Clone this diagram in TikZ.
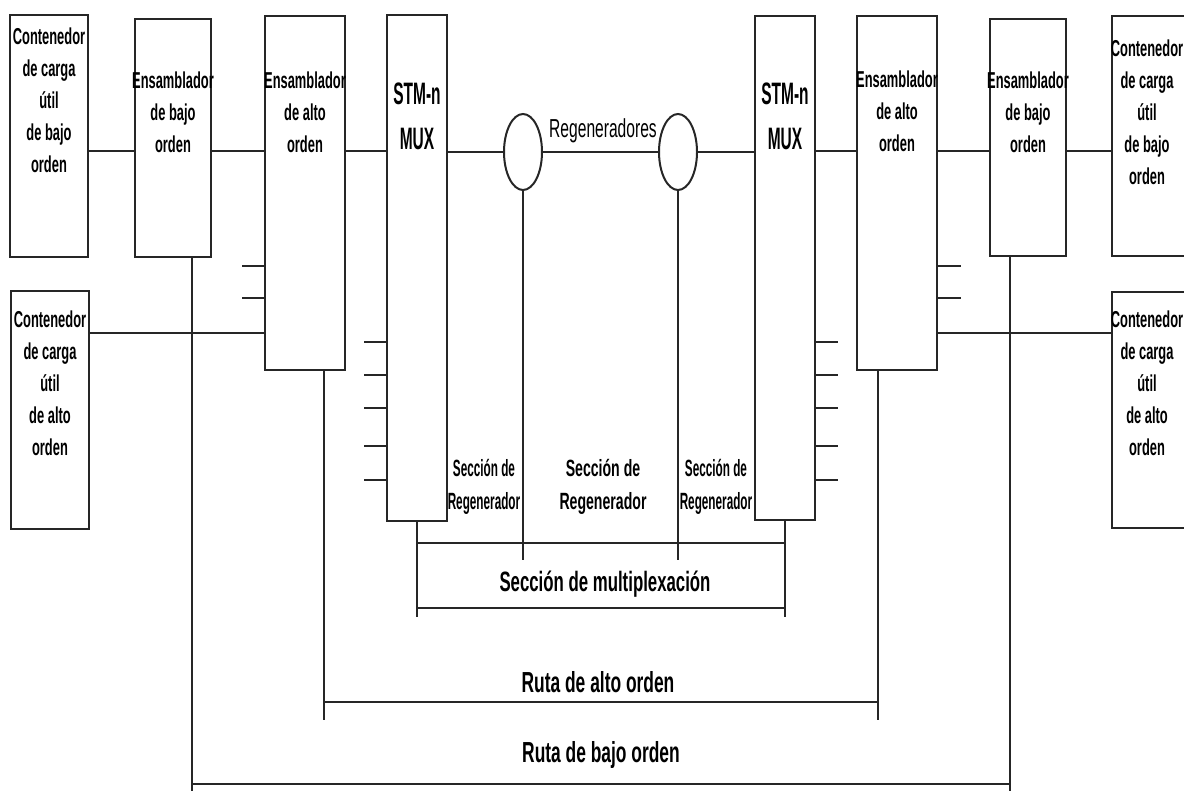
\documentclass[tikz,border=0pt]{standalone}
\usepackage{fontspec}
\setmainfont{Liberation Sans}[FakeStretch=0.6]
\newfontfamily\muxfont{Liberation Sans}[FakeStretch=0.5]
\newfontfamily\boxfont{Liberation Sans}[FakeStretch=0.56]
\usetikzlibrary{shapes.geometric}

\begin{document}
\begin{tikzpicture}[x=1pt,y=-1pt,line width=2pt,draw=black!85,
  blk/.style={draw,inner sep=0pt},
  regen/.style={draw,ellipse,inner sep=0pt,minimum width=38pt,minimum height=76pt},
  boxtxt/.style={font=\boxfont\bfseries\fontsize{23}{32}\selectfont,align=center,inner sep=0pt},
  muxtxt/.style={font=\muxfont\bfseries\fontsize{31}{45}\selectfont,align=center,inner sep=0pt},
  sectxt/.style={font=\bfseries\fontsize{23.5}{33}\selectfont,align=center,inner sep=0pt},
  sidetxt/.style={font=\muxfont\bfseries\fontsize{23.5}{33}\selectfont,align=center,inner sep=0pt},
  rutatxt/.style={font=\bfseries\fontsize{29}{33}\selectfont,inner sep=0pt}]
  \useasboundingbox (0,0) rectangle (1184,791);
  \clip (0,0) rectangle (1184,791);

  % boxes, left side
  \node[blk,minimum width=78pt,minimum height=242pt] (C1) at (49,136) {};
  \node[blk,minimum width=76pt,minimum height=238pt] (E1) at (173,138) {};
  \node[blk,minimum width=80pt,minimum height=354pt] (A1) at (305,193) {};
  \node[blk,minimum width=60pt,minimum height=505pt] (M1) at (417,268) {};
  \node[blk,minimum width=78pt,minimum height=237pt] (C3) at (50,410) {};
  % boxes, right side
  \node[blk,minimum width=60pt,minimum height=504pt] (M2) at (785,268) {};
  \node[blk,minimum width=80pt,minimum height=354pt] (A2) at (897,193) {};
  \node[blk,minimum width=76pt,minimum height=237pt] (E2) at (1028,138) {};
  \node[blk,minimum width=78pt,minimum height=240pt] (C2) at (1151,136) {};
  \node[blk,minimum width=78pt,minimum height=235pt] (C4) at (1151,410) {};
  % regenerators
  \node[regen] (R1) at (523,152) {};
  \node[regen] (R2) at (678,152) {};

  % texts in the boxes
  \node[boxtxt] (C1t) at (49,100) {Contenedor\\de carga\\útil\\de bajo\\orden};
  \node[boxtxt] (E1t) at (173,112) {Ensamblador\\de bajo\\orden};
  \node[boxtxt] (A1t) at (305,112) {Ensamblador\\de alto\\orden};
  \node[muxtxt] (M1t) at (417,116) {STM-n\\MUX};
  \node[boxtxt] (C3t) at (50,383) {Contenedor\\de carga\\útil\\de alto\\orden};
  \node[muxtxt] (M2t) at (785,116) {STM-n\\MUX};
  \node[boxtxt] (A2t) at (897,111) {Ensamblador\\de alto\\orden};
  \node[boxtxt] (E2t) at (1028,112) {Ensamblador\\de bajo\\orden};
  \node[boxtxt] (C2t) at (1147,112) {Contenedor\\de carga\\útil\\de bajo\\orden};
  \node[boxtxt] (C4t) at (1147,383) {Contenedor\\de carga\\útil\\de alto\\orden};
  \node[boxtxt,font=\fontsize{26}{30}\selectfont] (rgl) at (603,131) {Regeneradores};

  % main chain
  \draw (C1.east |- 0,151) -- (E1.west |- 0,151);
  \draw (E1.east |- 0,151) -- (A1.west |- 0,151);
  \draw (A1.east |- 0,151) -- (M1.west |- 0,151);
  \draw (M1.east |- R1.west) -- (R1.west);
  \draw (R1.east) -- (R2.west);
  \draw (R2.east) -- (M2.west |- R2.east);
  \draw (M2.east |- 0,151) -- (A2.west |- 0,151);
  \draw (A2.east |- 0,151) -- (E2.west |- 0,151);
  \draw (E2.east |- 0,151) -- (C2.west |- 0,151);
  \draw (C3.east |- 0,333) -- (A1.west |- 0,333);
  \draw (A2.east |- 0,333) -- (C4.west |- 0,333);

  % tributary stubs
  \foreach \y in {266,298} {
    \draw (A1.west |- 0,\y) -- ++(-22,0);
    \draw (A2.east |- 0,\y) -- ++(23,0);
  }
  \foreach \y in {342,375,408,446,480} {
    \draw (M1.west |- 0,\y) -- ++(-22,0);
    \draw (M2.east |- 0,\y) -- ++(22,0);
  }

  % regenerator and multiplex sections
  \draw (R1.south) -- (R1.south |- 0,560);
  \draw (R2.south) -- (R2.south |- 0,560);
  \draw (M1.south) -- (M1.south |- 0,617);
  \draw (M2.south) -- (M2.south |- 0,617);
  \draw (M1.south |- 0,543) -- (M2.south |- 0,543);
  \draw (M1.south |- 0,608) -- (M2.south |- 0,608);
  \node[sidetxt] (s1) at (484,487) {Sección de\\Regenerador};
  \node[sectxt] (s2) at (603,487) {Sección de\\Regenerador};
  \node[sidetxt] (s3) at (716,487) {Sección de\\Regenerador};
  \node[rutatxt,font=\bfseries\fontsize{28}{32}\selectfont] (mxl) at (605,584) {Sección de multiplexación};

  % paths
  \coordinate (altoL) at ([xshift=19pt]A1.south);
  \coordinate (altoR) at ([xshift=-19pt]A2.south);
  \coordinate (bajoL) at ([xshift=19pt]E1.south);
  \coordinate (bajoR) at ([xshift=-18pt]E2.south);
  \draw (altoL) -- (altoL |- 0,720);
  \draw (altoR) -- (altoR |- 0,720);
  \draw (altoL |- 0,702) -- (altoR |- 0,702);
  \draw (bajoL) -- (bajoL |- 0,791);
  \draw (bajoR) -- (bajoR |- 0,791);
  \draw (bajoL |- 0,784) -- (bajoR |- 0,784);
  \node[rutatxt] (ral) at (598,682) {Ruta de alto orden};
  \node[rutatxt] (rbl) at (601,755) {Ruta de bajo orden};
\end{tikzpicture}
\end{document}
